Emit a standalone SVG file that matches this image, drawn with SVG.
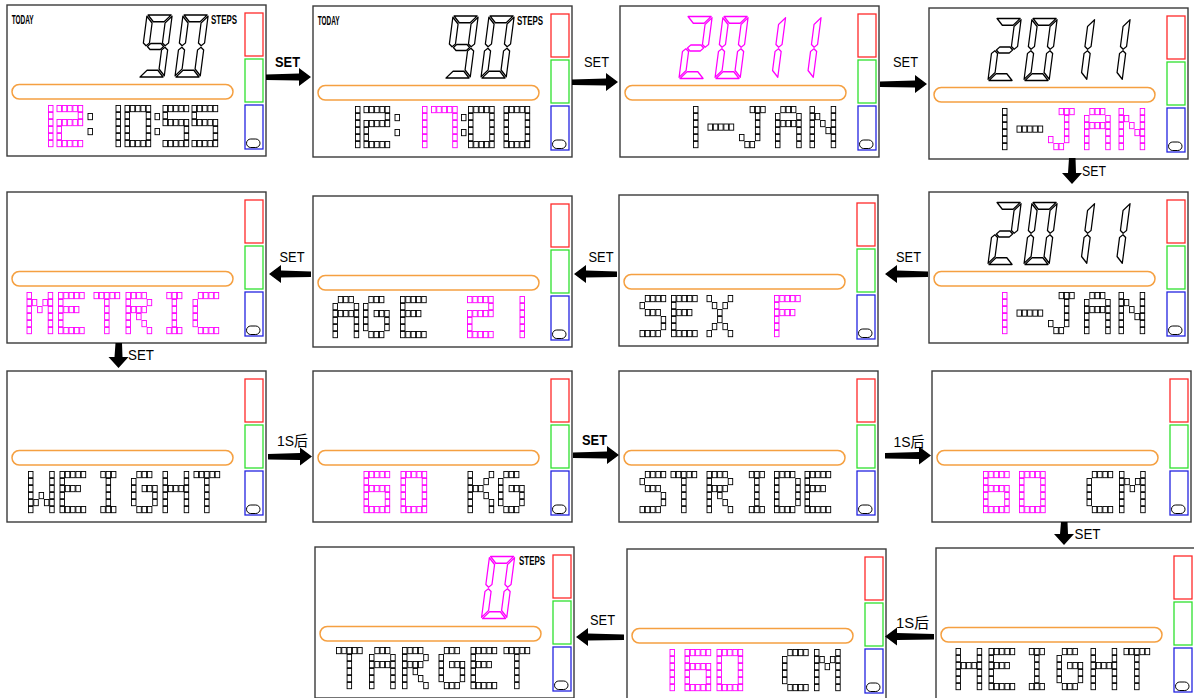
<svg xmlns="http://www.w3.org/2000/svg" width="1194" height="698" viewBox="0 0 1194 698">
<defs>
<style>
.pk{stroke:#ff00ff}
.bk{stroke:#000}
.lbl{font-family:"Liberation Sans",Arial,sans-serif;font-weight:bold;font-size:12px;fill:#000}
.at{font-family:"Liberation Sans","Noto Sans CJK SC",sans-serif;font-size:15px;fill:#000}
.b{font-weight:bold}
.arr{fill:#000}
</style>
<rect id="c" width="4.5" height="6.2" fill="none" stroke-width="0.9"/>
<g id="p11111"><use href="#c"/><use href="#c" x="5.3"/><use href="#c" x="10.6"/><use href="#c" x="15.9"/><use href="#c" x="21.2"/></g>
<g id="p10001"><use href="#c"/><use href="#c" x="21.2"/></g>
<g id="p00001"><use href="#c" x="21.2"/></g>
<g id="p10000"><use href="#c"/></g>
<g id="p01110"><use href="#c" x="5.3"/><use href="#c" x="10.6"/><use href="#c" x="15.9"/></g>
<g id="p00111"><use href="#c" x="10.6"/><use href="#c" x="15.9"/><use href="#c" x="21.2"/></g>
<g id="p00010"><use href="#c" x="15.9"/></g>
<g id="p10010"><use href="#c"/><use href="#c" x="15.9"/></g>
<g id="p01100"><use href="#c" x="5.3"/><use href="#c" x="10.6"/></g>
<g id="p11001"><use href="#c"/><use href="#c" x="5.3"/><use href="#c" x="21.2"/></g>
<g id="p10101"><use href="#c"/><use href="#c" x="10.6"/><use href="#c" x="21.2"/></g>
<g id="p10011"><use href="#c"/><use href="#c" x="15.9"/><use href="#c" x="21.2"/></g>
<g id="p01111"><use href="#c" x="5.3"/><use href="#c" x="10.6"/><use href="#c" x="15.9"/><use href="#c" x="21.2"/></g>
<g id="p11110"><use href="#c"/><use href="#c" x="5.3"/><use href="#c" x="10.6"/><use href="#c" x="15.9"/></g>
<g id="p01010"><use href="#c" x="5.3"/><use href="#c" x="15.9"/></g>
<g id="p00100"><use href="#c" x="10.6"/></g>
<g id="p10111"><use href="#c"/><use href="#c" x="10.6"/><use href="#c" x="15.9"/><use href="#c" x="21.2"/></g>
<g id="p11011"><use href="#c"/><use href="#c" x="5.3"/><use href="#c" x="15.9"/><use href="#c" x="21.2"/></g>
<g id="p10100"><use href="#c"/><use href="#c" x="10.6"/></g>
<g id="p11100"><use href="#c"/><use href="#c" x="5.3"/><use href="#c" x="10.6"/></g>

<g id="g0"><use href="#p11111"/><use href="#p10001" y="7"/><use href="#p10001" y="14"/><use href="#p10001" y="21"/><use href="#p10001" y="28"/><use href="#p11111" y="35"/></g>
<g id="g1"><use href="#p10000"/><use href="#p10000" y="7"/><use href="#p10000" y="14"/><use href="#p10000" y="21"/><use href="#p10000" y="28"/><use href="#p10000" y="35"/></g>
<g id="g2"><use href="#p11111"/><use href="#p00001" y="7"/><use href="#p11111" y="14"/><use href="#p10000" y="21"/><use href="#p10000" y="28"/><use href="#p11111" y="35"/></g>
<g id="g5"><use href="#p11111"/><use href="#p10000" y="7"/><use href="#p11111" y="14"/><use href="#p00001" y="21"/><use href="#p00001" y="28"/><use href="#p11111" y="35"/></g>
<g id="g6"><use href="#p11111"/><use href="#p10000" y="7"/><use href="#p11111" y="14"/><use href="#p10001" y="21"/><use href="#p10001" y="28"/><use href="#p11111" y="35"/></g>
<g id="g7"><use href="#p11111"/><use href="#p00001" y="7"/><use href="#p00001" y="14"/><use href="#p00001" y="21"/><use href="#p00001" y="28"/><use href="#p00001" y="35"/></g>
<g id="gD"><use href="#p11111" y="17.5"/></g>
<g id="gCol"><use href="#c" y="8"/><use href="#c" y="23"/></g>
<g id="gJ"><use href="#p00111"/><use href="#p00010" y="7"/><use href="#p00010" y="14"/><use href="#p00010" y="21"/><use href="#p10010" y="28"/><use href="#p01100" y="35"/></g>
<g id="gA"><use href="#p01110"/><use href="#p10001" y="7"/><use href="#p11111" y="14"/><use href="#p10001" y="21"/><use href="#p10001" y="28"/><use href="#p10001" y="35"/></g>
<g id="gN"><use href="#p10001"/><use href="#p11001" y="7"/><use href="#p10101" y="14"/><use href="#p10011" y="21"/><use href="#p10001" y="28"/><use href="#p10001" y="35"/></g>
<g id="gS"><use href="#p01111"/><use href="#p10000" y="7"/><use href="#p01110" y="14"/><use href="#p00001" y="21"/><use href="#p00001" y="28"/><use href="#p11110" y="35"/></g>
<g id="gE"><use href="#p11111"/><use href="#p10000" y="7"/><use href="#p11110" y="14"/><use href="#p10000" y="21"/><use href="#p10000" y="28"/><use href="#p11111" y="35"/></g>
<g id="gX"><use href="#p10001"/><use href="#p01010" y="7"/><use href="#p00100" y="14"/><use href="#p00100" y="21"/><use href="#p01010" y="28"/><use href="#p10001" y="35"/></g>
<g id="gF"><use href="#p11111"/><use href="#p10000" y="7"/><use href="#p11110" y="14"/><use href="#p10000" y="21"/><use href="#p10000" y="28"/><use href="#p10000" y="35"/></g>
<g id="gG"><use href="#p01110"/><use href="#p10000" y="7"/><use href="#p10111" y="14"/><use href="#p10001" y="21"/><use href="#p10001" y="28"/><use href="#p01110" y="35"/></g>
<g id="gM"><use href="#p10001"/><use href="#p11011" y="7"/><use href="#p10101" y="14"/><use href="#p10001" y="21"/><use href="#p10001" y="28"/><use href="#p10001" y="35"/></g>
<g id="gT"><use href="#p11111"/><use href="#p00100" y="7"/><use href="#p00100" y="14"/><use href="#p00100" y="21"/><use href="#p00100" y="28"/><use href="#p00100" y="35"/></g>
<g id="gR"><use href="#p11110"/><use href="#p10001" y="7"/><use href="#p11110" y="14"/><use href="#p10100" y="21"/><use href="#p10010" y="28"/><use href="#p10001" y="35"/></g>
<g id="gI"><use href="#p01110"/><use href="#p00100" y="7"/><use href="#p00100" y="14"/><use href="#p00100" y="21"/><use href="#p00100" y="28"/><use href="#p01110" y="35"/></g>
<g id="gC"><use href="#p01111"/><use href="#p10000" y="7"/><use href="#p10000" y="14"/><use href="#p10000" y="21"/><use href="#p10000" y="28"/><use href="#p01111" y="35"/></g>
<g id="gW"><use href="#p10001"/><use href="#p10001" y="7"/><use href="#p10001" y="14"/><use href="#p10101" y="21"/><use href="#p11011" y="28"/><use href="#p10001" y="35"/></g>
<g id="gH"><use href="#p10001"/><use href="#p10001" y="7"/><use href="#p11111" y="14"/><use href="#p10001" y="21"/><use href="#p10001" y="28"/><use href="#p10001" y="35"/></g>
<g id="gK"><use href="#p10001"/><use href="#p10010" y="7"/><use href="#p11100" y="14"/><use href="#p10010" y="21"/><use href="#p10001" y="28"/><use href="#p10001" y="35"/></g>
<g id="gDd"><use href="#p11110"/><use href="#p10001" y="7"/><use href="#p10001" y="14"/><use href="#p10001" y="21"/><use href="#p10001" y="28"/><use href="#p11110" y="35"/></g>

<polygon id="sa" fill="#fff" stroke-width="1.4" stroke-linejoin="round" points="1.2,0 26.8,0 20,6.8 8,6.8"/>
<polygon id="sf" fill="#fff" stroke-width="1.4" stroke-linejoin="round" points="0,1.2 6.8,8 6.8,28 3.4,30.8 0,28"/>
<polygon id="sb" fill="#fff" stroke-width="1.4" stroke-linejoin="round" points="28,1.2 28,28 24.6,30.8 21.2,28 21.2,8"/>
<polygon id="sg" fill="#fff" stroke-width="1.4" stroke-linejoin="round" points="5,31.5 8.3,28.5 19.7,28.5 23,31.5 19.7,34.5 8.3,34.5"/>
<polygon id="se" fill="#fff" stroke-width="1.4" stroke-linejoin="round" points="0,35 3.4,32.2 6.8,35 6.8,54 0,60.8"/>
<polygon id="sc" fill="#fff" stroke-width="1.4" stroke-linejoin="round" points="28,35 24.6,32.2 21.2,35 21.2,54 28,60.8"/>
<polygon id="sd" fill="#fff" stroke-width="1.4" stroke-linejoin="round" points="1.2,62 26.8,62 20,55.2 8,55.2"/>
<g id="d9" transform="skewX(-7.4) scale(0.9,1)"><use href="#sa"/><use href="#sb"/><use href="#sc"/><use href="#sd"/><use href="#sf"/><use href="#sg"/></g>
<g id="d0" transform="skewX(-7.4) scale(0.9,1)"><use href="#sa"/><use href="#sb"/><use href="#sc"/><use href="#sd"/><use href="#se"/><use href="#sf"/></g>
<g id="d2" transform="skewX(-7.4) scale(0.9,1)"><use href="#sa"/><use href="#sb"/><use href="#sg"/><use href="#se"/><use href="#sd"/></g>
<g id="d1" transform="skewX(-7.4) scale(0.9,1)"><use href="#sb"/><use href="#sc"/></g>

<g id="frame">
<rect x="0" y="0" width="259" height="151" fill="#fff" stroke="#3a3a3a" stroke-width="1.4"/>
<rect x="238" y="8" width="18" height="43" fill="none" stroke="#ff2a2a" stroke-width="1.3"/>
<rect x="238" y="54" width="18" height="43" fill="none" stroke="#2ee02e" stroke-width="1.3"/>
<rect x="238" y="100" width="18" height="44" fill="none" stroke="#2424e0" stroke-width="1.3"/>
<rect x="239.5" y="134" width="13.5" height="8.5" rx="4.25" fill="none" stroke="#000" stroke-width="1"/>
<rect x="5" y="79.5" width="221" height="14.5" rx="7.2" fill="none" stroke="#f5a041" stroke-width="1.5"/>
</g>
</defs>
<rect width="1194" height="698" fill="#fff"/>

<g id="screen-1" transform="translate(7,5)">
<use href="#frame"/>
<text class="lbl" x="4.7" y="19" textLength="22" lengthAdjust="spacingAndGlyphs">TODAY</text>
<text class="lbl" x="204" y="19" textLength="26" lengthAdjust="spacingAndGlyphs">STEPS</text>
<use href="#d9" x="140" y="10" class="bk"/><use href="#d0" x="176" y="10" class="bk"/>
<g transform="translate(0,100.5)">
<use href="#g1" x="41.5" class="pk"/><use href="#g2" x="50" class="pk"/>
<use href="#gCol" x="81" class="bk"/><use href="#g1" x="109" class="bk"/><use href="#g0" x="118" class="bk"/><use href="#gCol" x="148" class="bk"/><use href="#g5" x="156" class="bk"/><use href="#g5" x="185" class="bk"/>
</g>
</g>

<g id="screen-2" transform="translate(313,6)">
<use href="#frame"/>
<text class="lbl" x="4.7" y="19" textLength="22" lengthAdjust="spacingAndGlyphs">TODAY</text>
<text class="lbl" x="204" y="19" textLength="26" lengthAdjust="spacingAndGlyphs">STEPS</text>
<use href="#d9" x="140" y="10" class="bk"/><use href="#d0" x="176" y="10" class="bk"/>
<g transform="translate(0,100.5)">
<use href="#g1" x="42.5" class="bk"/><use href="#g2" x="51" class="bk"/><use href="#gCol" x="82" class="bk"/>
<use href="#g1" x="109.5" class="pk"/><use href="#g7" x="118.5" class="pk"/>
<use href="#gCol" x="148.5" class="bk"/><use href="#g0" x="155.5" class="bk"/><use href="#g0" x="191" class="bk"/>
</g>
</g>

<g id="screen-3" transform="translate(620,6)">
<use href="#frame"/>
<use href="#d2" x="67" y="10.5" class="pk"/><use href="#d0" x="103" y="10.5" class="pk"/><use href="#d1" x="140.5" y="10.5" class="pk"/><use href="#d1" x="176" y="10.5" class="pk"/>
<g transform="translate(0,100.5)">
<use href="#g1" x="73.5" class="bk"/><use href="#gD" x="88" class="bk"/><use href="#gJ" x="119.5" class="bk"/><use href="#gA" x="155.5" class="bk"/><use href="#gN" x="190" class="bk"/>
</g>
</g>

<g id="screen-4" transform="translate(929,8)">
<use href="#frame"/>
<use href="#d2" x="67" y="10.5" class="bk"/><use href="#d0" x="103" y="10.5" class="bk"/><use href="#d1" x="140.5" y="10.5" class="bk"/><use href="#d1" x="176" y="10.5" class="bk"/>
<g transform="translate(0,100.5)">
<use href="#g1" x="73.5" class="bk"/><use href="#gD" x="88" class="bk"/><use href="#gJ" x="119.5" class="pk"/><use href="#gA" x="155.5" class="pk"/><use href="#gN" x="190" class="pk"/>
</g>
</g>

<g id="screen-5" transform="translate(7,192)">
<use href="#frame"/>
<g transform="translate(0,100.5)">
<use href="#gM" x="20" class="pk"/><use href="#gE" x="51.5" class="pk"/><use href="#gT" x="87" class="pk"/><use href="#gR" x="119" class="pk"/><use href="#gI" x="154.5" class="pk"/><use href="#gC" x="186" class="pk"/>
</g>
</g>

<g id="screen-6" transform="translate(313,196)">
<use href="#frame"/>
<g transform="translate(0,100.5)">
<use href="#gA" x="20" class="bk"/><use href="#gG" x="50.5" class="bk"/><use href="#gE" x="87.5" class="bk"/>
<use href="#g2" x="154.5" class="pk"/><use href="#g1" x="207" class="pk"/>
</g>
</g>

<g id="screen-7" transform="translate(619,195)">
<use href="#frame"/>
<g transform="translate(0,100.5)">
<use href="#gS" x="21" class="bk"/><use href="#gE" x="52.5" class="bk"/><use href="#gX" x="88" class="bk"/>
<use href="#gF" x="155.5" class="pk"/>
</g>
</g>

<g id="screen-8" transform="translate(929,192)">
<use href="#frame"/>
<use href="#d2" x="67" y="10.5" class="bk"/><use href="#d0" x="103" y="10.5" class="bk"/><use href="#d1" x="140.5" y="10.5" class="bk"/><use href="#d1" x="176" y="10.5" class="bk"/>
<g transform="translate(0,100.5)">
<use href="#g1" x="73.5" class="pk"/><use href="#gD" x="88" class="bk"/><use href="#gJ" x="119.5" class="bk"/><use href="#gA" x="155.5" class="bk"/><use href="#gN" x="190" class="bk"/>
</g>
</g>

<g id="screen-9" transform="translate(7,371)">
<use href="#frame"/>
<g transform="translate(0,100.5)">
<use href="#gW" x="21.5" class="bk"/><use href="#gE" x="53" class="bk"/><use href="#gI" x="88.5" class="bk"/><use href="#gG" x="124.5" class="bk"/><use href="#gH" x="156" class="bk"/><use href="#gT" x="187" class="bk"/>
</g>
</g>

<g id="screen-10" transform="translate(313,371)">
<use href="#frame"/>
<g transform="translate(0,100.5)">
<use href="#g6" x="51" class="pk"/><use href="#g0" x="88" class="pk"/>
<use href="#gK" x="155" class="bk"/><use href="#gG" x="185.5" class="bk"/>
</g>
</g>

<g id="screen-11" transform="translate(619,371)">
<use href="#frame"/>
<g transform="translate(0,100.5)">
<use href="#gS" x="21" class="bk"/><use href="#gT" x="52" class="bk"/><use href="#gR" x="88" class="bk"/><use href="#gI" x="125" class="bk"/><use href="#gDd" x="155.5" class="bk"/><use href="#gE" x="186" class="bk"/>
</g>
</g>

<g id="screen-12" transform="translate(932,371)">
<use href="#frame"/>
<g transform="translate(0,100.5)">
<use href="#g6" x="51.5" class="pk"/><use href="#g0" x="87.5" class="pk"/>
<use href="#gC" x="155" class="bk"/><use href="#gM" x="187.5" class="bk"/>
</g>
</g>

<g id="screen-13" transform="translate(315,547)">
<use href="#frame"/>
<text class="lbl" x="204" y="17.5" textLength="26" lengthAdjust="spacingAndGlyphs">STEPS</text>
<use href="#d0" x="174.5" y="9.5" class="pk"/>
<g transform="translate(0,100.5)">
<use href="#gT" x="21.5" class="bk"/><use href="#gA" x="54.5" class="bk"/><use href="#gR" x="87.5" class="bk"/><use href="#gG" x="124" class="bk"/><use href="#gE" x="156" class="bk"/><use href="#gT" x="189" class="bk"/>
</g>
</g>

<g id="screen-14" transform="translate(627,549)">
<use href="#frame"/>
<g transform="translate(0,100.5)">
<use href="#g1" x="43" class="pk"/><use href="#g6" x="58" class="pk"/><use href="#g0" x="90" class="pk"/>
<use href="#gC" x="155.5" class="bk"/><use href="#gM" x="187.5" class="bk"/>
</g>
</g>

<g id="screen-15" transform="translate(936,548)">
<use href="#frame"/>
<g transform="translate(0,100.5)">
<use href="#gH" x="20" class="bk"/><use href="#gE" x="53" class="bk"/><use href="#gI" x="88" class="bk"/><use href="#gG" x="121" class="bk"/><use href="#gH" x="155" class="bk"/><use href="#gT" x="188" class="bk"/>
</g>
</g>

<g id="connectors">
<polygon class="arr" points="266,74.5 299,73.5 299,68 311,77 299,86 299,80.5 266,80"/>
<text class="at b" x="275" y="66.5" textLength="25" lengthAdjust="spacingAndGlyphs">SET</text>
<polygon class="arr" points="572,79.5 606,78.5 606,73 618,82 606,91 606,85.5 572,85"/>
<text class="at" x="584" y="67" textLength="25" lengthAdjust="spacingAndGlyphs">SET</text>
<polygon class="arr" points="880,81.5 915,80.5 915,75 927,84 915,93 915,87.5 880,87"/>
<text class="at" x="893" y="67" textLength="25" lengthAdjust="spacingAndGlyphs">SET</text>
<polygon class="arr" points="1069,158 1075.5,158 1076,173 1082,173 1072,184 1062,173 1068,173"/>
<text class="at" x="1082" y="176" textLength="24" lengthAdjust="spacingAndGlyphs">SET</text>
<polygon class="arr" points="928,271.5 897,270.5 897,265 885,274 897,283 897,277.5 928,277"/>
<text class="at" x="896" y="262" textLength="25" lengthAdjust="spacingAndGlyphs">SET</text>
<polygon class="arr" points="617,271.5 586,270.5 586,265 574,274 586,283 586,277.5 617,277"/>
<text class="at" x="588.5" y="262" textLength="25" lengthAdjust="spacingAndGlyphs">SET</text>
<polygon class="arr" points="311,271.5 281,270.5 281,265 269,274 281,283 281,277.5 311,277"/>
<text class="at" x="279.5" y="262" textLength="25" lengthAdjust="spacingAndGlyphs">SET</text>
<polygon class="arr" points="115.5,343 122,343 122.5,357 128.5,357 118.5,368 108.5,357 114.5,357"/>
<text class="at" x="128" y="360" textLength="26" lengthAdjust="spacingAndGlyphs">SET</text>
<polygon class="arr" points="268,454 300,453 300,447.5 312,456.5 300,465.5 300,460 268,459.5"/>
<text class="at" x="277" y="446" textLength="31" lengthAdjust="spacingAndGlyphs">1S后</text>
<polygon class="arr" points="573,452.5 607,451.5 607,446 619,455 607,464 607,458.5 573,458"/>
<text class="at b" x="582" y="444.5" textLength="25" lengthAdjust="spacingAndGlyphs">SET</text>
<polygon class="arr" points="885,453 919,452 919,446.5 931,455.5 919,464.5 919,459 885,458.5"/>
<text class="at" x="893.5" y="447" textLength="31" lengthAdjust="spacingAndGlyphs">1S后</text>
<polygon class="arr" points="1061,522 1067.5,522 1068,534 1074,534 1064,545 1054,534 1060,534"/>
<text class="at" x="1074.5" y="538.5" textLength="26" lengthAdjust="spacingAndGlyphs">SET</text>
<polygon class="arr" points="934,634 897,633 897,627.5 885,636.5 897,645.5 897,640 934,639.5"/>
<text class="at" x="896" y="628" textLength="33" lengthAdjust="spacingAndGlyphs">1S后</text>
<polygon class="arr" points="624,634.5 588,633.5 588,628 576,637 588,646 588,640.5 624,640"/>
<text class="at" x="590" y="624.5" textLength="25" lengthAdjust="spacingAndGlyphs">SET</text>
</g>
</svg>
